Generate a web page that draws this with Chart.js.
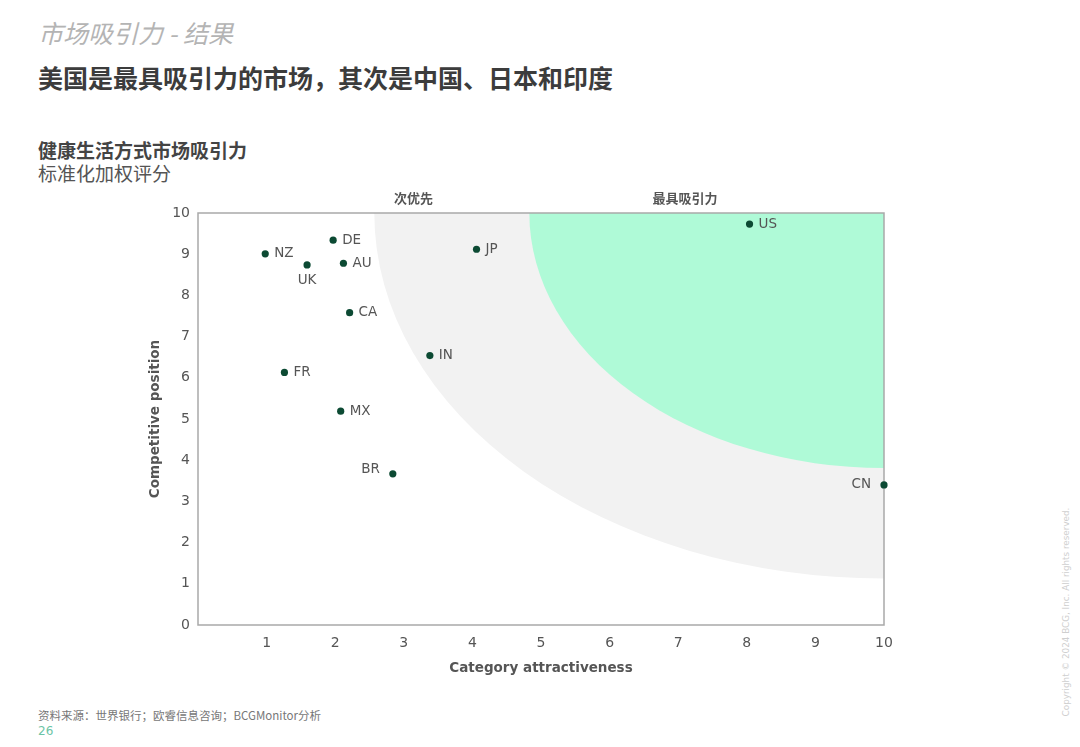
<!DOCTYPE html>
<html>
<head>
<meta charset="utf-8">
<script src="https://cdn.jsdelivr.net/npm/chart.js@4.4.1/dist/chart.umd.min.js"></script>
<style>
  html, body { margin: 0; padding: 0; background: #ffffff; }
  body { width: 1080px; height: 747px; position: relative; overflow: hidden; }
  .t { position: absolute; white-space: nowrap; line-height: 1; font-family: "Noto Sans CJK SC", "Noto Sans", sans-serif; }
  #kicker { left: 38px; top: 20px; font-size: 25px; font-style: italic; color: #b4b4b4; }
  #headline { left: 38px; top: 65px; font-size: 25px; font-weight: bold; color: #3c3c3c; }
  #ctitle { left: 38px; top: 140px; font-size: 19px; font-weight: bold; color: #444; }
  #csub { left: 38px; top: 163px; font-size: 19px; color: #555; }
  #source { left: 38px; top: 710px; font-size: 11.5px; color: #777; }
  #page { left: 38px; top: 725px; font-size: 12px; color: #6bc4a6; font-family: "DejaVu Sans", sans-serif; }
  #copy { left: 1066px; top: 612px; font-size: 8.8px; color: #cfcfcf; font-family: "DejaVu Sans", sans-serif;
          transform: translate(-50%, -50%) rotate(-90deg); }
  #wrap { position: absolute; left: 0; top: 0; width: 1080px; height: 747px; }
</style>
</head>
<body>
<div class="t" id="kicker">市场吸引力 - 结果</div>
<div class="t" id="headline">美国是最具吸引力的市场，其次是中国、日本和印度</div>
<div class="t" id="ctitle">健康生活方式市场吸引力</div>
<div class="t" id="csub">标准化加权评分</div>
<div class="t" id="source">资料来源：世界银行；欧睿信息咨询；BCGMonitor分析</div>
<div class="t" id="page">26</div>
<div class="t" id="copy">Copyright © 2024 BCG, Inc. All rights reserved.</div>
<div id="wrap"><canvas id="c"></canvas></div>
<script>
// ---- data ----
const countries      = ['NZ', 'DE', 'UK', 'AU', 'CA', 'FR', 'MX', 'BR', 'IN', 'JP', 'US', 'CN'];
const attractiveness = [0.98, 1.97, 1.59, 2.12, 2.21, 1.26, 2.08, 2.84, 3.38, 4.06, 8.04, 10.0];
const competitive    = [9.01, 9.34, 8.74, 8.78, 7.58, 6.13, 5.19, 3.67, 6.54, 9.12, 9.73, 3.40];
const xTickValues = [1, 2, 3, 4, 5, 6, 7, 8, 9, 10];
const yTickValues = [0, 1, 2, 3, 4, 5, 6, 7, 8, 9, 10];
const xAxisTitle = 'Category attractiveness';
const yAxisTitle = 'Competitive position';
const zoneNames = ['次优先', '最具吸引力'];
// zone ellipses centred on the top-right corner (data units)
const zoneCenter = [10, 10];
const zoneGrayRadii  = [7.43, 8.87];
const zoneGreenRadii = [5.17, 6.19];

// ---- style / placement ----
const labelSide = { UK: 'below', BR: 'left', CN: 'left' };
const zoneLabelX = [3.14, 7.10];
const dotColor = '#0c4a33';
const textColor = '#555555';

const points = countries.map((c, i) => ({ x: attractiveness[i], y: competitive[i] }));

const zonesPlugin = {
  id: 'zones',
  beforeDatasetsDraw(chart) {
    const { ctx, chartArea: a, scales: { x, y } } = chart;
    const cx = x.getPixelForValue(zoneCenter[0]);
    const cy = y.getPixelForValue(zoneCenter[1]);
    const ell = (r, color) => {
      const rx = Math.abs(x.getPixelForValue(zoneCenter[0] - r[0]) - cx);
      const ry = Math.abs(y.getPixelForValue(zoneCenter[1] - r[1]) - cy);
      ctx.beginPath();
      ctx.ellipse(cx, cy, rx, ry, 0, 0, Math.PI * 2);
      ctx.fillStyle = color;
      ctx.fill();
    };
    ctx.save();
    ctx.beginPath();
    ctx.rect(a.left, a.top, a.right - a.left, a.bottom - a.top);
    ctx.clip();
    ell(zoneGrayRadii, '#f2f2f2');
    ell(zoneGreenRadii, '#affad7');
    ctx.restore();
    // frame
    ctx.save();
    ctx.strokeStyle = '#a9a9a9';
    ctx.lineWidth = 1.5;
    ctx.strokeRect(a.left, a.top, a.right - a.left, a.bottom - a.top);
    ctx.restore();
    // zone names
    ctx.save();
    ctx.font = 'bold 13px "Noto Sans CJK SC", sans-serif';
    ctx.fillStyle = textColor;
    ctx.textAlign = 'center';
    ctx.textBaseline = 'middle';
    zoneNames.forEach((n, i) => ctx.fillText(n, x.getPixelForValue(zoneLabelX[i]), a.top - 15));
    ctx.restore();
  }
};

const labelsPlugin = {
  id: 'ptLabels',
  afterDatasetsDraw(chart) {
    const { ctx } = chart;
    const meta = chart.getDatasetMeta(0);
    ctx.save();
    ctx.font = '13.5px "DejaVu Sans", sans-serif';
    ctx.fillStyle = textColor;
    meta.data.forEach((el, i) => {
      const name = countries[i];
      const side = labelSide[name] || 'right';
      ctx.textBaseline = 'middle';
      if (side === 'right') { ctx.textAlign = 'left'; ctx.fillText(name, el.x + 9, el.y); }
      else if (side === 'left') { ctx.textAlign = 'right'; ctx.fillText(name, el.x - 13, el.y - (name === 'BR' ? 4 : 0)); }
      else { ctx.textAlign = 'center'; ctx.fillText(name, el.x, el.y + 16); }
    });
    ctx.restore();
  }
};

new Chart(document.getElementById('c'), {
  type: 'scatter',
  data: {
    datasets: [{
      data: points,
      backgroundColor: dotColor,
      borderColor: dotColor,
      pointRadius: 3.6,
      pointHoverRadius: 3.6,
      borderWidth: 0,
      clip: false
    }]
  },
  options: {
    responsive: true,
    maintainAspectRatio: false,
    animation: false,
    devicePixelRatio: 1,
    events: [],
    layout: { padding: { left: 138, right: 196, top: 213, bottom: 62 } },
    plugins: { legend: { display: false }, tooltip: { enabled: false } },
    scales: {
      x: {
        type: 'linear', min: 0, max: 10,
        afterFit(s) { s.height = 60; },
        afterBuildTicks(s) { s.ticks = xTickValues.map(v => ({ value: v })); },
        grid: { display: false, drawTicks: false },
        border: { display: false },
        ticks: { padding: 10, color: textColor, font: { family: 'DejaVu Sans', size: 14 }, maxRotation: 0, autoSkip: false },
        title: { display: true, text: xAxisTitle, color: textColor, padding: { top: 4, bottom: 8 },
                 font: { family: 'DejaVu Sans', size: 13.5, weight: 'bold' } }
      },
      y: {
        type: 'linear', min: 0, max: 10,
        afterFit(s) { s.width = 60; },
        afterBuildTicks(s) { s.ticks = yTickValues.map(v => ({ value: v })); },
        grid: { display: false, drawTicks: false },
        border: { display: false },
        ticks: { padding: 8, color: textColor, font: { family: 'DejaVu Sans', size: 14 }, autoSkip: false },
        title: { display: true, text: yAxisTitle, color: textColor, padding: { top: 9, bottom: 4 },
                 font: { family: 'DejaVu Sans', size: 13.5, weight: 'bold' } }
      }
    }
  },
  plugins: [zonesPlugin, labelsPlugin]
});
</script>
</body>
</html>
